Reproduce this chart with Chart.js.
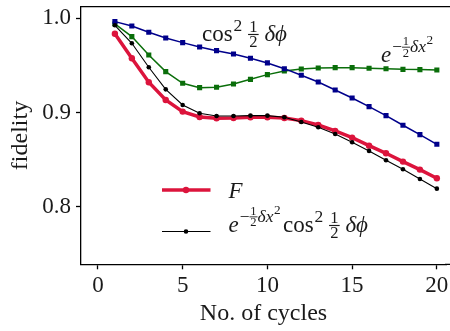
<!DOCTYPE html>
<html>
<head>
<meta charset="utf-8">
<script src="https://cdn.jsdelivr.net/npm/chart.js@4/dist/chart.umd.min.js"></script>
<style>
  html, body { margin: 0; padding: 0; background: #fff; }
  #wrap { width: 450px; height: 331px; position: relative; }
</style>
</head>
<body>
<div id="wrap"><canvas id="chart" width="450" height="331"></canvas></div>
<script>
// Fidelity vs number of cycles
const cycles = [1, 2, 3, 4, 5, 6, 7, 8, 9, 10, 11, 12, 13, 14, 15, 16, 17, 18, 19, 20];
const fidelityF = [0.9837, 0.9576, 0.9322, 0.9134, 0.9011, 0.8954, 0.8940, 0.8943, 0.8951, 0.8951,
                   0.8943, 0.8915, 0.8869, 0.8806, 0.8735, 0.8650, 0.8569, 0.8481, 0.8396, 0.8304];
const productTerm = [0.9926, 0.9735, 0.9481, 0.9247, 0.9081, 0.8993, 0.8965, 0.8965, 0.8968, 0.8968,
                     0.8951, 0.8901, 0.8845, 0.8774, 0.8686, 0.8594, 0.8495, 0.8399, 0.8297, 0.8194];
const cosTerm = [0.9965, 0.9919, 0.9852, 0.9792, 0.9742, 0.9696, 0.9657, 0.9622, 0.9576, 0.9527,
                 0.9466, 0.9396, 0.9325, 0.9240, 0.9155, 0.9064, 0.8968, 0.8866, 0.8767, 0.8664];
const expTerm = [0.9940, 0.9806, 0.9611, 0.9435, 0.9311, 0.9265, 0.9269, 0.9304, 0.9353, 0.9403,
                 0.9442, 0.9463, 0.9473, 0.9477, 0.9477, 0.9470, 0.9466, 0.9459, 0.9456, 0.9452];
const xTicks = [0, 5, 10, 15, 20];
const yTicks = [0.8, 0.9, 1.0];

const SERIF = '"Liberation Serif", "DejaVu Serif", serif';
const TEXT = '#1a1a1a';

function pts(values) {
    return cycles.map((c, i) => ({ x: c, y: values[i] }));
}

// little math typesetter: gaps (numbers, in em), {t,it}, {sup:[...]}, {frac:[a,b]}
function font(size, italic) {
    return (italic ? 'italic ' : '') + size + 'px ' + SERIF;
}

function renderMath(ctx, parts, x, y, size) {
    for (const p of parts) {
        if (typeof p === 'number') {
            x += p * size;
        } else if (p.sup) {
            x = renderMath(ctx, p.sup, x + size * 0.04, y - size * 0.44, size * 0.76);
        } else if (p.frac) {
            const fs = size * 0.72;
            ctx.font = font(fs, false);
            const wn = ctx.measureText(p.frac[0]).width;
            const wd = ctx.measureText(p.frac[1]).width;
            const w = Math.max(wn, wd) + size * 0.1;
            const axis = y - size * 0.27;
            ctx.fillText(p.frac[0], x + (w - wn) / 2, axis - size * 0.12);
            ctx.fillText(p.frac[1], x + (w - wd) / 2, axis + size * 0.07 + fs * 0.66);
            ctx.fillRect(x, axis - size * 0.025, w, Math.max(0.8, size * 0.05));
            x += w;
        } else {
            ctx.font = font(size, p.it);
            ctx.fillText(p.t, x, y);
            x += ctx.measureText(p.t).width;
        }
    }
    return x;
}

const cosLabel = [{ t: 'cos' }, { sup: [{ t: '2' }] }, 0.25, { frac: ['1', '2'] }, 0.25, { t: 'δϕ', it: true }];
const expLabel = [{ t: 'e', it: true }, { sup: [{ t: '−' }, { frac: ['1', '2'] }, { t: 'δx', it: true }, { sup: [{ t: '2' }] }] }];
const legendLabels = [
    [{ t: 'F', it: true }],
    expLabel.concat([0.1], cosLabel)
];

const annotations = {
    id: 'annotations',
    afterDraw(chart) {
        const ctx = chart.ctx;
        const area = chart.chartArea;
        ctx.save();
        // top spine, and bottom spine running on to the right edge
        ctx.strokeStyle = '#000';
        ctx.lineWidth = 1.3;
        ctx.beginPath();
        ctx.moveTo(area.left - 0.65, area.top);
        ctx.lineTo(chart.width, area.top);
        ctx.moveTo(area.right - 1, area.bottom);
        ctx.lineTo(chart.width, area.bottom);
        ctx.stroke();

        ctx.fillStyle = TEXT;
        ctx.textBaseline = 'alphabetic';
        ctx.textAlign = 'left';
        renderMath(ctx, cosLabel, 202, 40.7, 23);
        renderMath(ctx, expLabel, 381, 62, 23);

        // legend
        const rows = [{ ds: 1, y: 190, ty: 198.3 }, { ds: 0, y: 231.5, ty: 231.7 }];
        rows.forEach((r, i) => {
            const ds = chart.data.datasets[r.ds];
            ctx.strokeStyle = ds.borderColor;
            ctx.lineWidth = ds.borderWidth;
            ctx.beginPath();
            ctx.moveTo(162, r.y);
            ctx.lineTo(210.5, r.y);
            ctx.stroke();
            ctx.fillStyle = ds.pointBackgroundColor;
            ctx.beginPath();
            ctx.arc(186, r.y, ds.pointRadius, 0, Math.PI * 2);
            ctx.fill();
            ctx.fillStyle = TEXT;
            renderMath(ctx, legendLabels[i], 228.5, r.ty, 23);
        });
        ctx.restore();
    }
};

new Chart(document.getElementById('chart'), {
    type: 'line',
    data: {
        datasets: [{
            label: 'product',
            data: pts(productTerm),
            borderColor: '#000000',
            pointBackgroundColor: '#000000',
            borderWidth: 1.1,
            pointRadius: 2.3,
            pointBorderWidth: 0
        }, {
            label: 'F',
            data: pts(fidelityF),
            borderColor: '#dc143c',
            pointBackgroundColor: '#dc143c',
            borderWidth: 3.5,
            pointRadius: 3.2,
            pointBorderWidth: 0
        }, {
            label: 'cos',
            data: pts(cosTerm),
            borderColor: '#00008b',
            pointBackgroundColor: '#00008b',
            borderWidth: 1.5,
            pointStyle: 'rect',
            pointRadius: 3.6,
            pointBorderWidth: 0
        }, {
            label: 'exp',
            data: pts(expTerm),
            borderColor: '#0a6e0a',
            pointBackgroundColor: '#0a6e0a',
            borderWidth: 1.5,
            pointStyle: 'rect',
            pointRadius: 3.6,
            pointBorderWidth: 0
        }]
    },
    options: {
        responsive: false,
        animation: false,
        layout: { padding: { top: 6.7, right: 0, left: 0, bottom: 0 } },
        plugins: { legend: { display: false }, tooltip: { enabled: false } },
        elements: { line: { tension: 0 } },
        scales: {
            x: {
                type: 'linear',
                min: -1,
                max: 20.54,
                afterBuildTicks: (s) => { s.ticks = xTicks.map(v => ({ value: v })); },
                afterFit: (s) => { s.height = 66.7; s.paddingLeft = 0; s.paddingRight = 0; },
                ticks: {
                    font: { family: SERIF, size: 23 },
                    color: TEXT,
                    padding: 3,
                    maxRotation: 0,
                    callback: (v) => String(v)
                },
                grid: { drawOnChartArea: false, tickLength: 5, tickColor: '#000', tickWidth: 1.3 },
                border: { display: true, color: '#000', width: 1.3 },
                title: {
                    display: true,
                    text: 'No. of cycles',
                    font: { family: SERIF, size: 24 },
                    color: TEXT,
                    padding: { top: 0, bottom: 3 }
                }
            },
            y: {
                min: 0.7392,
                max: 1.0123,
                afterBuildTicks: (s) => { s.ticks = yTicks.map(v => ({ value: v })); },
                afterFit: (s) => { s.width = 81; s.paddingTop = 0; s.paddingBottom = 0; },
                ticks: {
                    font: { family: SERIF, size: 23 },
                    color: TEXT,
                    padding: 5,
                    callback: (v) => v.toFixed(1)
                },
                grid: { drawOnChartArea: false, tickLength: 5, tickColor: '#000', tickWidth: 1.3 },
                border: { display: true, color: '#000', width: 1.3 },
                title: {
                    display: true,
                    text: 'fidelity',
                    font: { family: SERIF, size: 24 },
                    color: TEXT,
                    padding: { top: 6, bottom: 0 }
                }
            }
        }
    },
    plugins: [annotations]
});
</script>
</body>
</html>
